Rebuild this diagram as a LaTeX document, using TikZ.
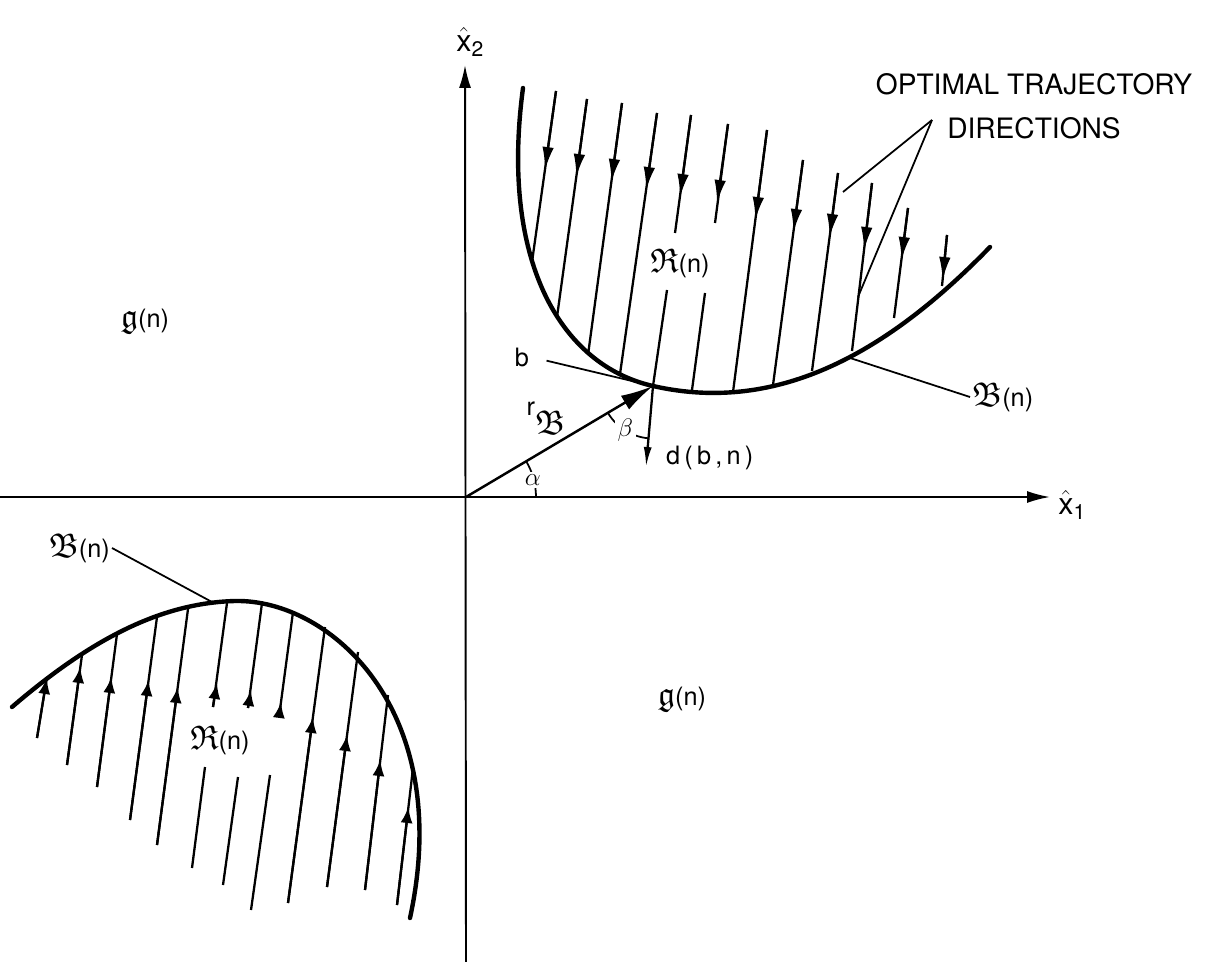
\documentclass[tikz,border=0pt]{standalone}
\usepackage{amssymb}
\usepackage{fontspec}
\setsansfont{TeX Gyre Heros}
\usetikzlibrary{arrows.meta, calc}
\newcommand{\regR}{\scalebox{1.35}{$\mathfrak{R}$}}
\newcommand{\bdyB}{\scalebox{1.35}{$\mathfrak{B}$}}
\newcommand{\regG}{\scalebox{1.35}{$\mathfrak{g}$}}

\begin{document}
\begin{tikzpicture}[x=0.02cm, y=-0.02cm, font=\sffamily\Large,
  axis/.style={line width=1.1pt, -{Latex[length=4.6mm, width=2.4mm]}},
  bdry/.style={line width=2.5pt, line cap=round},
  hatch/.style={line width=1.3pt},
  downtip/.style={-{Latex[length=4.6mm, width=2.3mm]}},
  uptip/.style={-{Latex[length=3.2mm, width=2.4mm]}},
  leader/.style={line width=1pt},
  angmark/.style={line width=1pt},
  setlbl/.style={inner sep=1pt}]
  \useasboundingbox (0,0) rectangle (1209,962);

  % axes
  \coordinate (O) at (466,497);
  \coordinate (xl) at (0,497);
  \coordinate (xr) at (1050,497);
  \coordinate (yb) at (466,962);
  \coordinate (yt) at (465,65);
  \draw[axis] (xl) -- (xr);
  \draw[axis] (yb) -- (yt);
  \node[anchor=west, inner sep=0pt] (x1) at (1058,505) {\LARGE$\hat{\mathsf{x}}_{\mathsf{1}}$};
  \node[anchor=west, inner sep=0pt] (x2) at (456,42) {\LARGE$\hat{\mathsf{x}}_{\mathsf{2}}$};

  % upper boundary B(n)
  \coordinate (b) at (653,386);
  \draw[bdry] (523,88) .. controls (500,260) and (560,365) .. (b)
    .. controls (780,415) and (890,350) .. (990,247);

  % lower boundary B(n)
  \coordinate (top) at (235,601);
  \draw[bdry] (12,707) .. controls (90,640) and (160,603) .. (top)
    .. controls (330,599) and (455,710) .. (410,918);

  % trajectories in upper R(n), pointing down
  \foreach \sx/\sy/\ty/\ex/\ey in {556/91/170/532/262, 587/99/177/557/317,
      622/103/182/588/355, 657/113/190/620/374, 767/130/220/733/392,
      803/160/232/773/385, 838/173/237/812/371, 872/183/250/852/351,
      908/208/260/894/318, 947/235/280/942/286} {
    \pgfmathsetmacro\tx{\sx+(\ty-\sy)*(\ex-\sx)/(\ey-\sy)}
    \draw[hatch] (\sx,\sy) -- (\ex,\ey);
    \draw[hatch, downtip] (\sx,\sy) -- (\tx,\ty);
  }
  % broken by the label
  \draw[hatch] (691,115) -- (675,233);
  \draw[hatch, downtip] (691,115) -- (680,197);
  \draw[hatch] (667,290) -- (b);
  \draw[hatch] (728,124) -- (715,223);
  \draw[hatch, downtip] (728,124) -- (717,203);
  \draw[hatch] (705,293) -- (692,390);

  % trajectories in lower R(n), pointing up
  \foreach \sx/\sy/\ty/\ex/\ey in {37/738/678/47/677, 67/765/667/82/655,
      97/787/677/117/634, 130/820/680/157/617, 157/845/687/188/609,
      288/903/717/325/627, 327/887/735/358/652, 365/890/760/388/695,
      397/905/807/413/768} {
    \pgfmathsetmacro\tx{\sx+(\ty-\sy)*(\ex-\sx)/(\ey-\sy)}
    \draw[hatch] (\sx,\sy) -- (\ex,\ey);
    \draw[hatch, uptip] (\sx,\sy) -- (\tx,\ty);
  }
  % broken by the label
  \draw[hatch] (192,868) -- (205,767);
  \draw[hatch] (213,707) -- (227,603);
  \draw[hatch, uptip] (213,707) -- (217,683);
  \draw[hatch] (223,885) -- (238,777);
  \draw[hatch] (248,708) -- (262,603);
  \draw[hatch, uptip] (248,708) -- (251,690);
  \draw[hatch] (251,910) -- (270,775);
  \draw[hatch] (279,717) -- (293,612);
  \draw[hatch, uptip] (279,717) -- (281,702);

  % region labels
  \node[setlbl] (Ru) at (680,263) {\regR(n)};
  \node[setlbl] (Rl) at (220,740) {\regR(n)};
  \node[setlbl] (Gu) at (145,322) {\regG(n)};
  \node[setlbl] (Gl) at (682,700) {\regG(n)};

  % point b, r and d(b,n)
  \node[setlbl] (blbl) at (522,357) {b};
  \draw[leader, shorten <=9pt] (blbl.east) -- (b);
  \draw[line width=1.4pt, -{Latex[length=6.5mm, width=3.2mm]}] (O) -- (b);
  \node[setlbl] (rB) at (546,418) {\raisebox{1.4ex}{r}\bdyB};
  \coordinate (dt) at (646,467);
  \draw[hatch, -{Latex[length=4mm, width=1.6mm]}] (b) -- (dt);
  \node[anchor=west, setlbl] (dlbl) at (664,458) {d\,(\,b\,,\,n\,)};

  % angles
  \draw[angmark] ($(O)+(0:1.4cm)$) arc[start angle=0, end angle=30.7, radius=1.4cm];
  \node[fill=white, inner sep=1.5pt] (alph) at ($(O)+(14:1.38cm)$) {$\alpha$};
  \draw[angmark] ($(b)+(210.7:1.05cm)$) arc[start angle=210.7, end angle=265, radius=1.05cm];
  \node[fill=white, inner sep=1.5pt] (bet) at ($(b)+(238:1.05cm)$) {$\beta$};

  % boundary labels
  \coordinate (bu) at (847,357);
  \node[anchor=west, setlbl] (Bu) at (970,397) {\bdyB(n)};
  \draw[leader] (bu) -- (Bu.west);
  \coordinate (bl) at (212,602);
  \node[anchor=east, setlbl] (Bl) at (112,548) {\bdyB(n)};
  \draw[leader] (bl) -- (Bl.east);

  % optimal trajectory directions
  \node[align=center, font=\sffamily\fontsize{16}{25}\selectfont] (opt) at (1034,106)
    {OPTIMAL TRAJECTORY\\ DIRECTIONS};
  \coordinate (apex) at (932,120);
  \coordinate (l1) at (843,192);
  \coordinate (l2) at (858,297);
  \draw[leader] (apex) -- (l1);
  \draw[leader] (apex) -- (l2);
\end{tikzpicture}
\end{document}
